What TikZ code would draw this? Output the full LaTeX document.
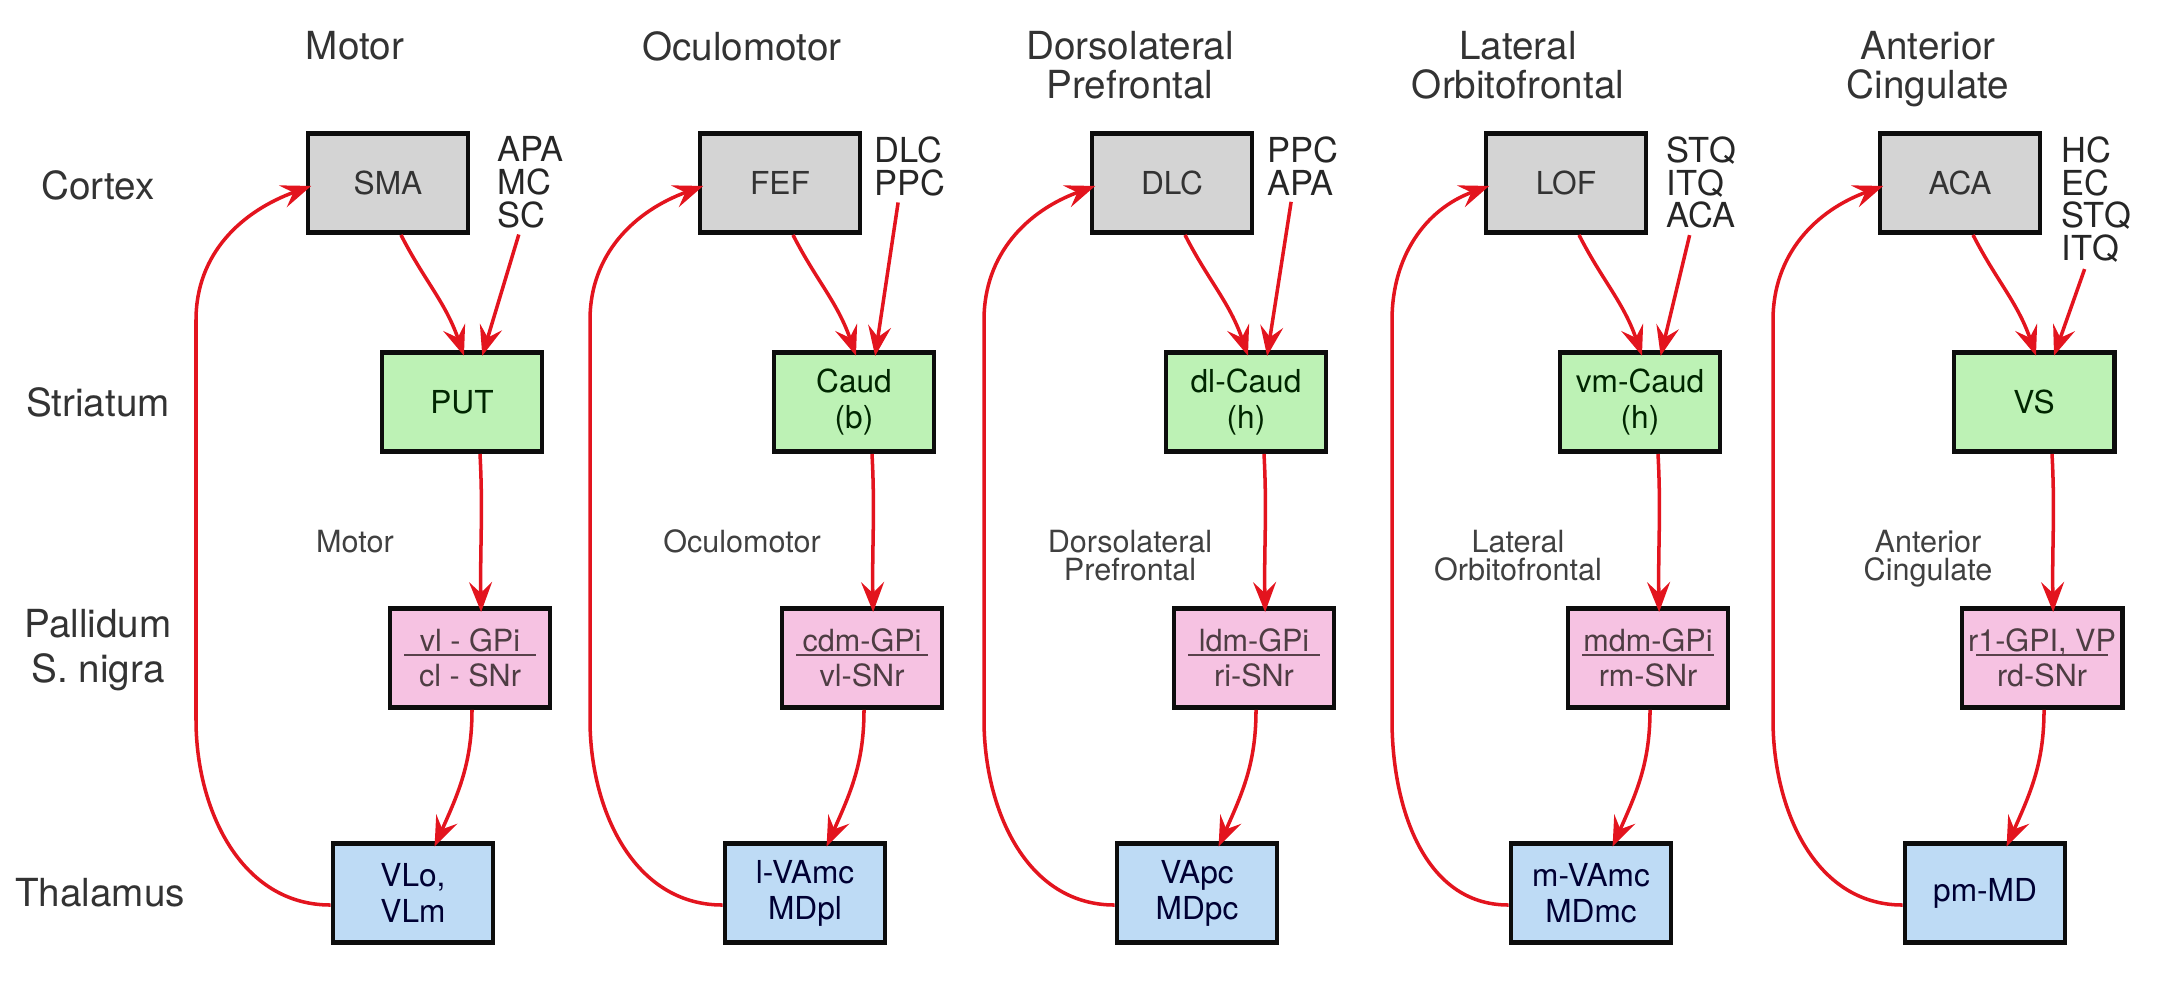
\documentclass[tikz,border=0pt]{standalone}
\usepackage{fontspec}
\setmainfont{TeX Gyre Heros}
\usetikzlibrary{arrows.meta,calc}
\definecolor{cctx}{HTML}{D4D4D4}
\definecolor{cstr}{HTML}{BDF2B5}
\definecolor{cpal}{HTML}{F6C2E2}
\definecolor{ctha}{HTML}{BEDBF5}
\definecolor{cred}{HTML}{E3141E}
\tikzset{
  box/.style={draw=black!95, line width=1.4pt, minimum width=16mm, minimum height=9.9mm, inner sep=0pt, align=center, font=\fontsize{9}{10.2}\selectfont},
  ctx/.style={box, fill=cctx, text=black!80},
  stri/.style={box, fill=cstr, text=green!15!black},
  pall/.style={box, fill=cpal, text=magenta!20!black, font=\fontsize{8.7}{10}\selectfont},
  thal/.style={box, fill=ctha, text=blue!20!black},
  row/.style={align=center, inner sep=0pt, font=\fontsize{11}{13}\selectfont, text=black!80},
  title/.style={align=center, anchor=north, inner sep=0pt, font=\fontsize{11}{11}\selectfont, text=black!80},
  mid/.style={align=center, anchor=north, inner sep=0pt, font=\fontsize{8.7}{8.2}\selectfont, text=black!75},
  aff/.style={align=left, anchor=north west, inner sep=0pt, font=\fontsize{9.8}{9.3}\selectfont, text=black!85},
  pre/.style={-{Stealth[length=3mm, width=2.3mm, inset=1.1mm]}, line width=1pt, draw=cred, shorten >=-0.6mm},
  divider/.style={line width=0.7pt, draw=magenta!25!black},
}

\begin{document}
\begin{tikzpicture}[x=0.1mm, y=0.1mm]
\useasboundingbox (0,0) rectangle (2164,-1006);
\node[row] (rctx) at (98,-185) {Cortex};
\node[row] (rstr) at (98,-402) {Striatum};
\node[row] (rpal) at (98,-650) {Pallidum\\S. nigra};
\node[row] (rtha) at (100,-893) {Thalamus};
\foreach \n/\cx/\tx/\lx/\ax/\ttl/\cn/\af/\sn/\pu/\pl/\tn in {
  1/388/355/196/497/Motor/SMA/{APA\\MC\\SC}/PUT/{vl - GPi}/{cl - SNr}/{VLo,\\VLm},
  2/780/742/590/874/Oculomotor/FEF/{DLC\\PPC}/{Caud\\(b)}/{cdm-GPi}/{vl-SNr}/{l-VAmc\\MDpl},
  3/1172/1130/984/1267/{Dorsolateral\\Prefrontal}/DLC/{PPC\\APA}/{dl-Caud\\(h)}/{ldm-GPi}/{ri-SNr}/{VApc\\MDpc},
  4/1566/1518/1392/1666/{Lateral\\Orbitofrontal}/LOF/{STQ\\ITQ\\ACA}/{vm-Caud\\(h)}/{mdm-GPi}/{rm-SNr}/{m-VAmc\\MDmc},
  5/1960/1928/1773/2061/{Anterior\\Cingulate}/ACA/{HC\\EC\\STQ\\ITQ}/VS/{r1-GPI, VP}/{rd-SNr}/{pm-MD}}{
  \node[title] (t\n) at (\tx,-31) {\ttl};
  \node[mid] (m\n) at (\tx,-529) {\ttl};
  \node[ctx] (c\n) at (\cx,-183) {\cn};
  \node[aff] (a\n) at (\ax,-136) {\af};
  \node[stri] (s\n) at (\cx+74,-402) {\sn};
  \node[pall] (p\n) at (\cx+82,-658) {\pu\\\pl};
  \node[thal] (h\n) at (\cx+25,-893) {\tn};
  \coordinate (lb\n) at (\lx,-720);
  \coordinate (lt\n) at (\lx,-320);
  \draw[divider] ($(p\n.center)+(-66,3)$) -- ($(p\n.center)+(66,3)$);
  \draw[pre] ($(c\n.south)+(13,0)$) to[out=-63, in=109] (s\n.north);
  \draw[pre] ($(a\n.south)+(-12,-6)$) -- ($(s\n.north)+(22,0)$);
  \draw[pre] ($(s\n.south)+(18,0)$) to[out=-87, in=91] ($(p\n.north)+(11,0)$);
  \draw[pre] ($(p\n.south)+(2,0)$) to[out=-90, in=66] ($(h\n.north)+(24,0)$);
  \draw[pre] ($(h\n.west)+(0,-12)$) to[out=180, in=-90] (lb\n) -- (lt\n) to[out=90, in=200] ($(c\n.west)+(0,-5)$);
}
\end{tikzpicture}
\end{document}
